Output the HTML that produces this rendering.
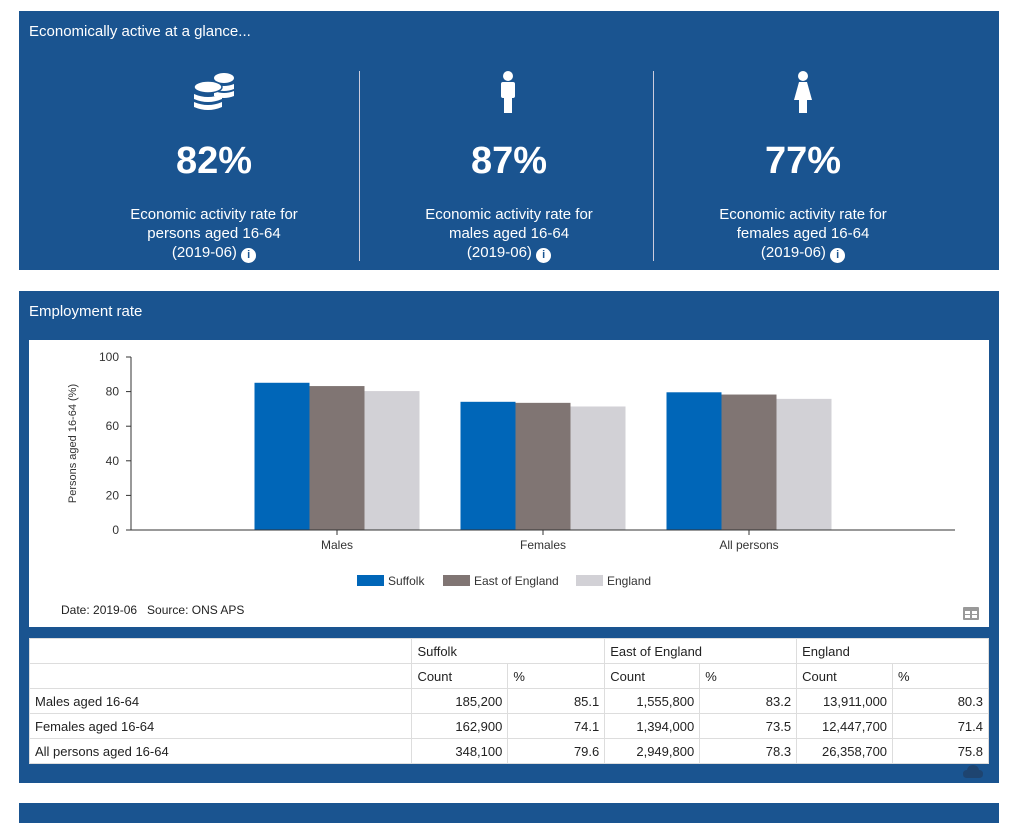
<!DOCTYPE html>
<html><head><meta charset="utf-8"><style>
*{margin:0;padding:0;box-sizing:border-box}
body{width:1032px;height:812px;background:#fff;font-family:"Liberation Sans",sans-serif;position:relative;overflow:hidden}
.panel{position:absolute;left:19px;width:980px;background:#1a5490;color:#fff}
.abs{position:absolute}
.stat{position:absolute;top:0;width:294px;text-align:center}
.big{position:absolute;top:129px;width:100%;font-size:38px;font-weight:bold}
.desc{position:absolute;top:194px;width:100%;font-size:15px;line-height:19px}
.info{display:inline-block;width:15px;height:15px;border-radius:50%;background:#fff;color:#1a5490;font-size:11px;font-weight:bold;line-height:15px;text-align:center;vertical-align:-1px;border-bottom:1px solid #fff}
table{border-collapse:collapse;position:absolute;left:29px;top:638px;width:960px;background:#fff;font-size:13px;color:#222}
td{border:1px solid #ddd;height:25px;padding:0 5px}
td.n{text-align:right}
</style></head><body>
<div class="panel" style="top:11px;height:259px">
 <div class="abs" style="left:10px;top:12px;font-size:15px">Economically active at a glance...</div>
 <div class="abs" style="left:340px;top:60px;width:1px;height:190px;background:#ccd"></div>
 <div class="abs" style="left:634px;top:60px;width:1px;height:190px;background:#ccd"></div>
 <div class="stat" style="left:48px">
  <svg class="abs" style="left:126px;top:61px" width="44" height="40" viewBox="0 0 44 40"><g fill="#fff"><ellipse cx="31" cy="6" rx="10" ry="5"/><path d="M21 12 Q31 16 41 12 V17 Q31 21 21 17Z"/><path d="M21 19 Q31 23 41 19 V24 Q31 28 21 24Z"/><ellipse cx="15" cy="15" rx="14" ry="6" stroke="#1a5490" stroke-width="1.5"/><path d="M1 22 Q15 28 29 22 V27 Q15 33 1 27Z"/><path d="M1 30 Q15 36 29 30 V35 Q15 41 1 35Z"/></g></svg>
  <div class="big">82%</div>
  <div class="desc">Economic activity rate for<br>persons aged 16-64<br>(2019-06) <span class="info">i</span></div>
 </div>
 <div class="stat" style="left:343px">
  <svg class="abs" style="left:137px;top:60px" width="18" height="42" viewBox="0 0 18 42"><g fill="#fff"><circle cx="9" cy="5" r="5"/><rect x="2" y="11" width="14" height="16" rx="2"/><rect x="5" y="24" width="8" height="18"/></g></svg>
  <div class="big">87%</div>
  <div class="desc">Economic activity rate for<br>males aged 16-64<br>(2019-06) <span class="info">i</span></div>
 </div>
 <div class="stat" style="left:637px">
  <svg class="abs" style="left:137px;top:60px" width="20" height="42" viewBox="0 0 20 42"><g fill="#fff"><circle cx="10" cy="5" r="5"/><polygon points="6,11 14,11 19,29 1,29"/><rect x="6" y="26" width="8" height="16"/></g></svg>
  <div class="big">77%</div>
  <div class="desc">Economic activity rate for<br>females aged 16-64<br>(2019-06) <span class="info">i</span></div>
 </div>
</div>

<div class="panel" style="top:291px;height:492px">
 <div class="abs" style="left:10px;top:12px;font-size:15px">Employment rate</div>
 <svg class="abs" style="left:944px;top:474px" width="20" height="14" viewBox="0 0 20 14"><path d="M4 13 Q0 13 0 9 Q0 5 4 5 Q5 0 10 0 Q15 0 16 5 Q20 5 20 9 Q20 13 16 13Z" fill="#1e4470"/></svg>
</div>
<div class="abs" style="left:29px;top:340px;width:960px;height:287px;background:#fff">
 <svg id="chart" width="960" height="287" style="position:absolute;left:0;top:0"></svg>
 <div class="abs" style="left:32px;top:263px;font-size:12px;color:#222">Date: 2019-06&nbsp;&nbsp;&nbsp;Source: ONS APS</div>
 <svg class="abs" style="left:934px;top:267px" width="16" height="13"><rect x="0" y="0" width="16" height="13" rx="1" fill="#999"/><rect x="2" y="4" width="5" height="3" fill="#fff"/><rect x="9" y="4" width="5" height="3" fill="#fff"/><rect x="2" y="8" width="5" height="3" fill="#fff"/><rect x="9" y="8" width="5" height="3" fill="#fff"/></svg>
</div>

<table>
<colgroup><col style="width:383px"><col style="width:96px"><col style="width:97px"><col style="width:95px"><col style="width:97px"><col style="width:96px"><col style="width:96px"></colgroup>
<tr><td></td><td colspan="2">Suffolk</td><td colspan="2">East of England</td><td colspan="2">England</td></tr>
<tr><td></td><td>Count</td><td>%</td><td>Count</td><td>%</td><td>Count</td><td>%</td></tr>
<tr><td>Males aged 16-64</td><td class="n">185,200</td><td class="n">85.1</td><td class="n">1,555,800</td><td class="n">83.2</td><td class="n">13,911,000</td><td class="n">80.3</td></tr>
<tr><td>Females aged 16-64</td><td class="n">162,900</td><td class="n">74.1</td><td class="n">1,394,000</td><td class="n">73.5</td><td class="n">12,447,700</td><td class="n">71.4</td></tr>
<tr><td>All persons aged 16-64</td><td class="n">348,100</td><td class="n">79.6</td><td class="n">2,949,800</td><td class="n">78.3</td><td class="n">26,358,700</td><td class="n">75.8</td></tr>
</table>

<div class="panel" style="top:803px;height:20px"></div>

<script>
const categories = ["Males","Females","All persons"];
const seriesNames = ["Suffolk","East of England","England"];
const suffolk = [85.1,74.1,79.6];
const eastOfEngland = [83.2,73.5,78.3];
const england = [80.3,71.4,75.8];
const yTicks = [0,20,40,60,80,100];
const colors = ["#0066b8","#807573","#d2d1d6"];
const series=[suffolk,eastOfEngland,england];
const svg=document.getElementById('chart');
const NS='http://www.w3.org/2000/svg';
const X0=102,X1=926,Y0=190,Y1=17;
const y=v=>Y0-(v/100)*(Y0-Y1);
const slot=(X1-X0)/(categories.length+1);
const x=i=>X0+slot*(i+1);
const bw=55;
function mk(t,a){const e=document.createElementNS(NS,t);for(const k in a)e.setAttribute(k,a[k]);svg.appendChild(e);return e;}
yTicks.forEach(t=>{
 const l=mk('line',{x1:X0-5,x2:X0,y1:y(t),y2:y(t),stroke:'#333'});
 
 
 const tx=mk('text',{x:X0-12,y:y(t)+4,'text-anchor':'end','font-size':12,fill:'#333'});
 tx.textContent=t;
 
 
});
const ya=mk('line',{x1:X0,x2:X0,y1:Y1,y2:Y0,stroke:'#333'});


const yt=mk('text',{x:0,y:0,transform:`translate(47,${(Y0+Y1)/2}) rotate(-90)`,'text-anchor':'middle','font-size':11,fill:'#333'});
yt.textContent='Persons aged 16-64 (%)';


categories.forEach((c,i)=>{
 series.forEach((s,j)=>{
  const r=mk('rect',{x:x(i)-bw*1.5+j*bw,y:y(s[i]),width:bw,height:Y0-y(s[i]),fill:colors[j]});
  
  
 });
 const tk=mk('line',{x1:x(i),x2:x(i),y1:Y0,y2:Y0+5,stroke:'#333'});
 
 
 const tl=mk('text',{x:x(i),y:Y0+19,'text-anchor':'middle','font-size':12,fill:'#333'});
 tl.textContent=c;
 
 
});
const xa=mk('line',{x1:X0,x2:X1,y1:Y0,y2:Y0,stroke:'#333'});


const lx=[328,414,547];
seriesNames.forEach((n,j)=>{
 const r=mk('rect',{x:lx[j],y:235,width:27,height:11,fill:colors[j]});
 
 
 const t=mk('text',{x:lx[j]+31,y:245,'font-size':12,fill:'#333'});
 t.textContent=n;
 
 
});
</script>
</body></html>
